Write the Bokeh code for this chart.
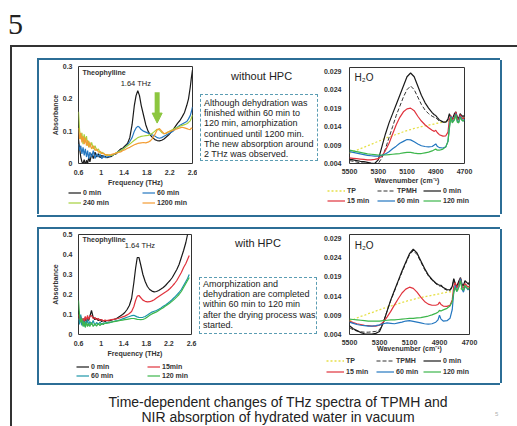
from bokeh.plotting import figure
from bokeh.models import (Div, Spacer, Legend, LegendItem, Label, Arrow, NormalHead,
                          Range1d, FixedTicker, NumeralTickFormatter)
from bokeh.layouts import column, row
from bokeh.embed import file_html
from bokeh.resources import INLINE

# ---------------- data ----------------
thz_xticks = [0.6, 1.0, 1.4, 1.8, 2.2, 2.6]
thz1_yticks = [0, 0.1, 0.2, 0.3]
thz2_yticks = [0, 0.1, 0.2, 0.3, 0.4, 0.5]
nir_xticks = [5500, 5300, 5100, 4900, 4700]
nir_yticks = [0.004, 0.009, 0.014, 0.019, 0.024, 0.029]

freq1 = [0.60, 0.62, 0.64, 0.66, 0.68, 0.70, 0.72, 0.74, 0.76, 0.78, 0.80,
         0.83, 0.86, 0.89, 0.92, 0.95, 0.98, 1.01, 1.04, 1.07, 1.10,
         1.14, 1.18, 1.22, 1.26, 1.30, 1.34, 1.38, 1.42, 1.46, 1.50, 1.54, 1.58,
         1.61, 1.64, 1.67, 1.70,
         1.74, 1.78, 1.82, 1.86, 1.90, 1.94, 1.98, 2.02, 2.06, 2.10, 2.14, 2.18,
         2.22, 2.26, 2.30, 2.34, 2.38, 2.42, 2.46, 2.50,
         2.53, 2.56, 2.58, 2.60]

thz1_0min = [0.075, 0.045, 0.02, 0.005, 0.0, 0.012, -0.005, 0.01, 0.0, 0.02, 0.005,
             0.03, 0.015, 0.035, 0.02, 0.03, 0.018, 0.025, 0.02, 0.022, 0.018,
             0.02, 0.022, 0.028, 0.03, 0.038, 0.045, 0.048, 0.055, 0.062, 0.08, 0.12, 0.18,
             0.21, 0.225, 0.21, 0.18,
             0.15, 0.12, 0.1, 0.088, 0.08, 0.074, 0.071, 0.07, 0.072, 0.076, 0.082, 0.088,
             0.096, 0.105, 0.115, 0.125, 0.133, 0.145, 0.158, 0.18,
             0.2, 0.235, 0.265, 0.29]
thz1_60min = [0.06, 0.04, 0.055, 0.03, 0.05, 0.025, 0.045, 0.02, 0.04, 0.015, 0.035,
              0.02, 0.04, 0.015, 0.03, 0.02, 0.028, 0.015, 0.025, 0.018, 0.02,
              0.022, 0.025, 0.028, 0.032, 0.036, 0.04, 0.045, 0.05, 0.058, 0.068, 0.08, 0.1,
              0.11, 0.115, 0.112, 0.105,
              0.1, 0.097, 0.094, 0.09, 0.088, 0.085, 0.08, 0.078, 0.08, 0.084, 0.088, 0.092,
              0.096, 0.1, 0.108, 0.113, 0.118, 0.122, 0.126, 0.13,
              0.138, 0.148, 0.16, 0.175]
thz1_240min = [0.16, 0.1, 0.075, 0.095, 0.06, 0.09, 0.065, 0.085, 0.055, 0.07, 0.05,
               0.065, 0.045, 0.055, 0.04, 0.045, 0.032, 0.035, 0.03, 0.028, 0.025,
               0.027, 0.025, 0.028, 0.033, 0.036, 0.04, 0.044, 0.05, 0.055, 0.06, 0.066, 0.072,
               0.076, 0.08, 0.082, 0.084,
               0.085, 0.086, 0.087, 0.09, 0.094, 0.1, 0.106, 0.104, 0.096, 0.092, 0.094, 0.098,
               0.102, 0.106, 0.11, 0.112, 0.115, 0.118, 0.12, 0.123,
               0.127, 0.132, 0.14, 0.15]
thz1_1200min = [0.11, 0.075, 0.095, 0.065, 0.085, 0.06, 0.08, 0.055, 0.072, 0.05, 0.065,
                0.045, 0.055, 0.04, 0.045, 0.035, 0.038, 0.03, 0.032, 0.026, 0.028,
                0.025, 0.028, 0.03, 0.032, 0.034, 0.036, 0.04, 0.043, 0.047, 0.05, 0.054, 0.058,
                0.06, 0.062, 0.063, 0.064,
                0.065, 0.064, 0.066, 0.07, 0.078, 0.09, 0.104, 0.108, 0.1, 0.092, 0.094, 0.098,
                0.1, 0.103, 0.105, 0.108, 0.11, 0.112, 0.11, 0.108,
                0.106, 0.105, 0.11, 0.108]

freq2 = [0.60, 0.62, 0.64, 0.66, 0.68, 0.70, 0.72, 0.74, 0.76, 0.78, 0.80,
         0.83, 0.86, 0.89, 0.92, 0.95, 0.98, 1.01, 1.04, 1.07, 1.10,
         1.14, 1.18, 1.22, 1.26, 1.30, 1.34, 1.38, 1.42, 1.46, 1.50, 1.54, 1.58,
         1.61, 1.64, 1.67, 1.70,
         1.74, 1.78, 1.82, 1.86, 1.90, 1.94, 1.98, 2.02, 2.06, 2.10, 2.14, 2.18,
         2.22, 2.26, 2.30, 2.34, 2.38, 2.42, 2.46, 2.50,
         2.53, 2.56]

thz2_0min = [0.12, 0.06, 0.09, 0.05, 0.08, 0.06, 0.085, 0.065, 0.08, 0.07, 0.09,
             0.12, 0.085, 0.075, 0.08, 0.07, 0.075, 0.065, 0.07, 0.065, 0.07,
             0.068, 0.072, 0.075, 0.078, 0.085, 0.092, 0.1, 0.11, 0.125, 0.145, 0.18, 0.26,
             0.33, 0.385, 0.385, 0.35,
             0.3, 0.265, 0.24, 0.225, 0.217, 0.213, 0.215, 0.22, 0.227, 0.235, 0.245, 0.258,
             0.27, 0.285, 0.305, 0.325, 0.35, 0.385, 0.42, 0.46,
             0.5, 0.54]
thz2_15min = [0.1, 0.07, 0.085, 0.06, 0.08, 0.065, 0.09, 0.07, 0.095, 0.075, 0.09,
              0.095, 0.08, 0.085, 0.075, 0.08, 0.07, 0.075, 0.068, 0.072, 0.07,
              0.072, 0.074, 0.076, 0.078, 0.08, 0.084, 0.088, 0.092, 0.098, 0.105, 0.115, 0.14,
              0.17, 0.192, 0.195, 0.185,
              0.172, 0.166, 0.163, 0.164, 0.168, 0.174, 0.182, 0.19, 0.198, 0.205, 0.212, 0.22,
              0.23, 0.242, 0.255, 0.27, 0.29, 0.31, 0.335, 0.355,
              0.375, 0.395]
thz2_60min = [0.08, 0.05, 0.1, 0.045, 0.07, 0.04, 0.065, 0.05, 0.075, 0.045, 0.065,
              0.05, 0.07, 0.045, 0.06, 0.05, 0.062, 0.05, 0.058, 0.055, 0.06,
              0.058, 0.062, 0.065, 0.068, 0.07, 0.074, 0.078, 0.082, 0.086, 0.09, 0.094, 0.096,
              0.092, 0.088, 0.086, 0.085,
              0.086, 0.09, 0.097, 0.105, 0.112, 0.116, 0.12, 0.126, 0.133, 0.141, 0.148, 0.156,
              0.165, 0.175, 0.186, 0.198, 0.21, 0.225, 0.245, 0.265,
              0.28, 0.3]
thz2_120min = [0.17, 0.09, 0.06, 0.08, 0.04, 0.065, 0.035, 0.06, 0.04, 0.055, 0.04,
               0.06, 0.04, 0.055, 0.042, 0.055, 0.045, 0.055, 0.05, 0.058, 0.055,
               0.06, 0.062, 0.064, 0.066, 0.068, 0.07, 0.072, 0.074, 0.076, 0.078, 0.08, 0.08,
               0.078, 0.076, 0.075, 0.074,
               0.075, 0.08, 0.088, 0.096, 0.103, 0.108, 0.113, 0.12, 0.127, 0.134, 0.142, 0.15,
               0.158, 0.167, 0.177, 0.188, 0.2, 0.215, 0.235, 0.255,
               0.27, 0.285]

wavenumber = [5500, 5475, 5450, 5425, 5400, 5375, 5350, 5325, 5300, 5275, 5250, 5225,
              5200, 5175, 5150, 5125, 5100, 5075, 5050, 5025, 5000, 4975, 4950, 4925,
              4910, 4900, 4890, 4875, 4850, 4830,
              4815, 4805, 4795, 4785, 4770, 4760, 4750, 4740, 4730, 4720, 4710, 4700]

nir1_tp = [0.0068, 0.0072, 0.0076, 0.0080, 0.0084, 0.0088, 0.0092, 0.0096, 0.0100, 0.0104, 0.0108, 0.0112,
           0.0115, 0.0119, 0.0122, 0.0126, 0.0129, 0.0132, 0.0135, 0.0137, 0.0140, 0.0142, 0.0144, 0.0146,
           0.0147, 0.0148, 0.0149, 0.0150, 0.0152, 0.0153,
           0.0154, 0.0156, 0.0157, 0.0157, 0.0159, 0.0161, 0.0160, 0.0161, 0.0163, 0.0163, 0.0164, 0.0165]
nir1_tpmh = [0.0048, 0.0046, 0.0044, 0.0042, 0.0041, 0.0040, 0.0039, 0.0039, 0.0040, 0.0055, 0.0080, 0.0110,
             0.0140, 0.0170, 0.0195, 0.0220, 0.0240, 0.0250, 0.0240, 0.0220, 0.0200, 0.0185, 0.0175, 0.0168,
             0.0165, 0.0165, 0.0160, 0.0155, 0.0152, 0.0150,
             0.0158, 0.0172, 0.0163, 0.0158, 0.0172, 0.0178, 0.0163, 0.0160, 0.0172, 0.0168, 0.0165, 0.0168]
nir1_0min = [0.0052, 0.0050, 0.0048, 0.0046, 0.0045, 0.0043, 0.0041, 0.0040, 0.0050, 0.0085, 0.0120, 0.0150,
             0.0175, 0.0200, 0.0225, 0.0250, 0.0275, 0.0285, 0.0275, 0.0250, 0.0225, 0.0205, 0.0190, 0.0178,
             0.0172, 0.0170, 0.0165, 0.0158, 0.0153, 0.0152,
             0.0160, 0.0175, 0.0165, 0.0160, 0.0175, 0.0180, 0.0165, 0.0162, 0.0175, 0.0170, 0.0168, 0.0170]
nir1_15min = [0.0055, 0.0054, 0.0053, 0.0052, 0.0051, 0.0050, 0.0050, 0.0051, 0.0053, 0.0060, 0.0075, 0.0095,
              0.0120, 0.0145, 0.0165, 0.0180, 0.0188, 0.0190, 0.0183, 0.0168, 0.0155, 0.0145, 0.0137, 0.0130,
              0.0127, 0.0130, 0.0124, 0.0118, 0.0114, 0.0115,
              0.0125, 0.0160, 0.0170, 0.0158, 0.0165, 0.0180, 0.0160, 0.0158, 0.0172, 0.0165, 0.0160, 0.0165]
nir1_60min = [0.0072, 0.0070, 0.0068, 0.0066, 0.0064, 0.0062, 0.0061, 0.0060, 0.0060, 0.0062, 0.0066, 0.0072,
              0.0080, 0.0087, 0.0095, 0.0100, 0.0105, 0.0104, 0.0099, 0.0093, 0.0088, 0.0086, 0.0085, 0.0086,
              0.0090, 0.0093, 0.0087, 0.0083, 0.0082, 0.0085,
              0.0100, 0.0140, 0.0168, 0.0152, 0.0160, 0.0175, 0.0155, 0.0152, 0.0168, 0.0160, 0.0155, 0.0160]
nir1_120min = [0.0076, 0.0074, 0.0072, 0.0070, 0.0068, 0.0066, 0.0065, 0.0064, 0.0063, 0.0063, 0.0063, 0.0064,
               0.0065, 0.0066, 0.0067, 0.0069, 0.0070, 0.0070, 0.0068, 0.0067, 0.0067, 0.0069, 0.0071, 0.0074,
               0.0077, 0.0079, 0.0076, 0.0076, 0.0079, 0.0085,
               0.0100, 0.0135, 0.0165, 0.0150, 0.0158, 0.0172, 0.0152, 0.0150, 0.0165, 0.0158, 0.0155, 0.0158]

nir2_tp = [0.0075, 0.0079, 0.0083, 0.0087, 0.0090, 0.0094, 0.0097, 0.0101, 0.0104, 0.0108, 0.0111, 0.0114,
           0.0117, 0.0120, 0.0123, 0.0126, 0.0129, 0.0131, 0.0134, 0.0136, 0.0138, 0.0140, 0.0142, 0.0144,
           0.0145, 0.0146, 0.0147, 0.0148, 0.0150, 0.0151,
           0.0152, 0.0154, 0.0155, 0.0155, 0.0157, 0.0159, 0.0159, 0.0160, 0.0162, 0.0163, 0.0164, 0.0166]
nir2_tpmh = [0.0058, 0.0052, 0.0049, 0.0047, 0.0046, 0.0046, 0.0047, 0.0048, 0.0052, 0.0072, 0.0100, 0.0128,
             0.0153, 0.0178, 0.0202, 0.0225, 0.0247, 0.0258, 0.0248, 0.0229, 0.0209, 0.0193, 0.0181, 0.0172,
             0.0168, 0.0166, 0.0166, 0.0160, 0.0155, 0.0154,
             0.0163, 0.0183, 0.0170, 0.0163, 0.0178, 0.0186, 0.0168, 0.0166, 0.0178, 0.0174, 0.0170, 0.0173]
nir2_0min = [0.0063, 0.0055, 0.0050, 0.0045, 0.0042, 0.0041, 0.0041, 0.0043, 0.0048, 0.0070, 0.0100, 0.0130,
             0.0155, 0.0180, 0.0205, 0.0228, 0.0250, 0.0262, 0.0252, 0.0232, 0.0212, 0.0195, 0.0183, 0.0174,
             0.0170, 0.0168, 0.0168, 0.0162, 0.0157, 0.0156,
             0.0165, 0.0185, 0.0172, 0.0165, 0.0180, 0.0188, 0.0170, 0.0168, 0.0180, 0.0176, 0.0172, 0.0175]
nir2_15min = [0.0075, 0.0071, 0.0068, 0.0066, 0.0064, 0.0063, 0.0062, 0.0062, 0.0064, 0.0072, 0.0085, 0.0100,
              0.0117, 0.0133, 0.0148, 0.0158, 0.0163, 0.0160, 0.0150, 0.0137, 0.0126, 0.0119, 0.0116, 0.0116,
              0.0118, 0.0124, 0.0118, 0.0114, 0.0113, 0.0116,
              0.0130, 0.0165, 0.0175, 0.0160, 0.0172, 0.0185, 0.0165, 0.0160, 0.0172, 0.0168, 0.0163, 0.0166]
nir2_60min = [0.0072, 0.0069, 0.0066, 0.0064, 0.0063, 0.0062, 0.0062, 0.0063, 0.0065, 0.0068, 0.0070, 0.0069,
              0.0068, 0.0070, 0.0072, 0.0075, 0.0076, 0.0074, 0.0072, 0.0070, 0.0068, 0.0067, 0.0068, 0.0072,
              0.0078, 0.0090, 0.0080, 0.0075, 0.0076, 0.0082,
              0.0105, 0.0150, 0.0168, 0.0152, 0.0165, 0.0185, 0.0158, 0.0150, 0.0165, 0.0162, 0.0156, 0.0160]
nir2_120min = [0.0080, 0.0079, 0.0078, 0.0077, 0.0076, 0.0075, 0.0075, 0.0075, 0.0075, 0.0076, 0.0077, 0.0078,
               0.0078, 0.0079, 0.0080, 0.0081, 0.0082, 0.0082, 0.0083, 0.0084, 0.0086, 0.0088, 0.0091, 0.0095,
               0.0098, 0.0103, 0.0101, 0.0104, 0.0108, 0.0114,
               0.0125, 0.0150, 0.0162, 0.0152, 0.0165, 0.0180, 0.0158, 0.0155, 0.0168, 0.0163, 0.0158, 0.0162]

# ---------------- styling helpers ----------------
FONT = "Liberation Sans"
TXT = "#222222"
SMALL = "#333333"
FRAME_BLUE = "#2c6e96"
S_BLACK = dict(line_color="#1a1a1a", line_width=1.2)
S_RED = dict(line_color="#e0323c", line_width=1.2)
S_BLUE = dict(line_color="#2477c0", line_width=1.2)
S_TEAL = dict(line_color="#1c95a8", line_width=1.2)
S_GREEN = dict(line_color="#3cb64b", line_width=1.2)
S_YGREEN = dict(line_color="#a6d13c", line_width=1.2)
S_ORANGE = dict(line_color="#f39c32", line_width=1.2)
S_TP = dict(line_color="#e6e04a", line_width=1.3, line_dash="2 2")
S_TPMH = dict(line_color="#333333", line_width=1.0, line_dash="4 2")


def make_fig(frame_w, frame_h, left, right, top, bottom, xr, yr):
    p = figure(frame_width=frame_w, frame_height=frame_h,
               min_border_left=left, min_border_right=right,
               min_border_top=top, min_border_bottom=bottom,
               x_range=xr, y_range=yr, output_backend="svg",
               toolbar_location=None, tools="", margin=0)
    p.grid.visible = False
    p.outline_line_color = "#333333"
    p.outline_line_width = 1
    p.border_fill_color = "white"
    for ax in (p.xaxis, p.yaxis):
        ax.major_tick_line_color = None
        ax.minor_tick_line_color = None
        ax.major_tick_out = 0
        ax.major_tick_in = 0
        ax.axis_line_color = None
        ax.major_label_text_font = FONT
        ax.major_label_text_font_size = "7px"
        ax.major_label_text_font_style = "bold"
        ax.major_label_text_color = SMALL
        ax.axis_label_text_font = FONT
        ax.axis_label_text_font_size = "7px"
        ax.axis_label_text_font_style = "bold"
        ax.axis_label_text_color = SMALL
    return p


def legend_strip(total_w, height, starts, columns, glyph_w, spacing):
    """Row of small legend-only figures; each column is its own Legend at top_left.
    The legend glyphs come from the same series, drawn outside the strip's visible range."""
    children = [Spacer(width=starts[0], height=height)]
    for i, entries in enumerate(columns):
        end = starts[i + 1] if i + 1 < len(starts) else total_w
        lf = figure(width=end - starts[i], height=height, min_border=0, margin=0,
                    x_range=Range1d(-20000, -19999), y_range=Range1d(-20000, -19999),
                    x_axis_location=None, y_axis_location=None,
                    output_backend="svg", toolbar_location=None, tools="")
        lf.grid.visible = False
        lf.outline_line_color = None
        items = [LegendItem(label=lab, renderers=[lf.line(xs, ys, **sty)])
                 for lab, sty, xs, ys in entries]
        lf.add_layout(Legend(items=items, location="top_left", orientation="vertical",
                             background_fill_alpha=0, border_line_color=None,
                             label_text_font=FONT, label_text_font_size="7px",
                             label_text_font_style="bold",
                             label_text_color=SMALL, label_standoff=2,
                             glyph_width=glyph_w, glyph_height=9, label_height=9,
                             spacing=spacing, padding=0, margin=0), "center")
        children.append(lf)
    return row(children)


def thz_fig(frame_w, frame_h, top, bottom, yticks, ymax, right):
    p = make_fig(frame_w, frame_h, 39, right, top, bottom,
                 Range1d(0.6, 2.6), Range1d(0, ymax))
    p.xaxis.ticker = FixedTicker(ticks=thz_xticks)
    p.yaxis.ticker = FixedTicker(ticks=yticks)
    p.xaxis.formatter = NumeralTickFormatter(format="0.[0]")
    p.yaxis.formatter = NumeralTickFormatter(format="0.[0]")
    p.xaxis.axis_label = "Frequency (THz)"
    p.yaxis.axis_label = "Absorbance"
    p.xaxis.major_label_standoff = 6
    p.xaxis.axis_label_standoff = 1
    p.yaxis.major_label_standoff = 6
    p.yaxis.axis_label_standoff = 1
    return p


def nir_fig(frame_w, frame_h, top, bottom, right, label_standoff):
    p = make_fig(frame_w, frame_h, 27, right, top, bottom,
                 Range1d(5500, 4700), Range1d(0.004, 0.030))
    p.xaxis.ticker = FixedTicker(ticks=nir_xticks)
    p.yaxis.ticker = FixedTicker(ticks=nir_yticks)
    p.yaxis.formatter = NumeralTickFormatter(format="0.000")
    p.xaxis.axis_label = "Wavenumber (cm\u207b\u00b9)"
    p.xaxis.major_label_standoff = 5
    p.xaxis.axis_label_standoff = label_standoff
    p.yaxis.major_label_standoff = 8
    return p


def solid(w, h, color):
    return Div(width=w, height=h, margin=0, styles={"background-color": color})


def boxed(content, w, h, t, color):
    return column(solid(w + 2 * t, t, color),
                  row(solid(t, h, color), content, solid(t, h, color)),
                  solid(w + 2 * t, t, color))


def text_div(text, w, h, size="11px"):
    return Div(text=text, width=w, height=h, margin=0,
               styles={"font-family": FONT, "font-size": size, "line-height": f"{h}px",
                       "color": TXT, "white-space": "nowrap"})


def note_box(lines, w, h, pad_top):
    html = ("<div style=\"box-sizing:border-box;width:%dpx;height:%dpx;border:1px dashed #5b9db3;"
            "padding:%dpx 2px 0 3px;font-family:'Liberation Sans';font-size:9px;line-height:10.2px;"
            "color:#222;white-space:nowrap;\">%s</div>" % (w, h, pad_top, "<br>".join(lines)))
    return Div(text=html, width=w, height=h, margin=0)


# ---------------- panel 1 : without HPC ----------------
thz1 = thz_fig(114, 97, 6, 25, thz1_yticks, 0.3, 5)
thz1.line(freq1, thz1_0min, **S_BLACK)
thz1.line(freq1, thz1_60min, **S_BLUE)
thz1.line(freq1, thz1_240min, **S_YGREEN)
thz1.line(freq1, thz1_1200min, **S_ORANGE)
thz1.add_layout(Label(x=0.67, y=0.292, text="Theophylline", text_font=FONT,
                      text_font_size="7px", text_font_style="bold", text_color=SMALL,
                      text_baseline="top"))
thz1.add_layout(Label(x=1.34, y=0.262, text="1.64 THz", text_font=FONT,
                      text_font_size="7.5px", text_color=TXT, text_baseline="top"))
thz1.add_layout(Arrow(end=NormalHead(size=10, fill_color="#8cc63f", line_color="#8cc63f", line_width=1),
                      x_start=1.98, y_start=0.22, x_end=1.98, y_end=0.125,
                      line_color="#8cc63f", line_width=5))
leg_thz1 = legend_strip(158, 19, [29, 103],
                        [[("0 min", S_BLACK, freq1, thz1_0min), ("240 min", S_YGREEN, freq1, thz1_240min)],
                         [("60 min", S_BLUE, freq1, thz1_60min), ("1200 min", S_ORANGE, freq1, thz1_1200min)]],
                        13, 1)
col_thz1 = column(thz1, leg_thz1, Spacer(width=158, height=7))

nir1 = nir_fig(115, 96, 7, 22, 36, 0)
nir1.line(wavenumber, nir1_tp, **S_TP)
nir1.line(wavenumber, nir1_tpmh, **S_TPMH)
nir1.line(wavenumber, nir1_0min, **S_BLACK)
nir1.line(wavenumber, nir1_15min, **S_RED)
nir1.line(wavenumber, nir1_60min, **S_BLUE)
nir1.line(wavenumber, nir1_120min, **S_GREEN)
nir1.add_layout(Label(x=5465, y=0.0289, text="H\u2082O", text_font=FONT,
                      text_font_size="10px", text_color=TXT, text_baseline="top"))
leg_nir1 = legend_strip(178, 19, [7, 57, 103],
                        [[("TP", S_TP, wavenumber, nir1_tp), ("15 min", S_RED, wavenumber, nir1_15min)],
                         [("TPMH", S_TPMH, wavenumber, nir1_tpmh), ("60 min", S_BLUE, wavenumber, nir1_60min)],
                         [("0 min", S_BLACK, wavenumber, nir1_0min), ("120 min", S_GREEN, wavenumber, nir1_120min)]],
                        18, 1)
col_nir1 = column(nir1, leg_nir1, Spacer(width=178, height=10))

box1_lines = ["Although dehydration was", "finished within 60 min to",
              "120 min, amorphization", "continued until 1200 min.",
              "The new absorption around", "2 THz was observed."]
mid1 = column(
    Spacer(width=123, height=9),
    row(Spacer(width=34, height=14), text_div("without HPC", 89, 14)),
    Spacer(width=123, height=11),
    row(Spacer(width=3, height=67), note_box(box1_lines, 118, 67, 3), Spacer(width=2, height=67)),
    Spacer(width=123, height=53),
)
panel1 = boxed(row(col_thz1, mid1, col_nir1), 459, 154, 2, FRAME_BLUE)

# ---------------- panel 2 : with HPC ----------------
thz2 = thz_fig(113, 100, 5, 28, thz2_yticks, 0.5, 6)
thz2.line(freq2, thz2_0min, **S_BLACK)
thz2.line(freq2, thz2_15min, **S_RED)
thz2.line(freq2, thz2_60min, **S_TEAL)
thz2.line(freq2, thz2_120min, **S_GREEN)
thz2.add_layout(Label(x=0.67, y=0.492, text="Theophylline", text_font=FONT,
                      text_font_size="7px", text_font_style="bold", text_color=SMALL,
                      text_baseline="top"))
thz2.add_layout(Label(x=1.42, y=0.47, text="1.64 THz", text_font=FONT,
                      text_font_size="7.5px", text_color=TXT, text_baseline="top"))
leg_thz2 = legend_strip(158, 18, [37, 108],
                        [[("0 min", S_BLACK, freq2, thz2_0min), ("60 min", S_TEAL, freq2, thz2_60min)],
                         [("15min", S_RED, freq2, thz2_15min), ("120 min", S_GREEN, freq2, thz2_120min)]],
                        13, 0)
col_thz2 = column(thz2, leg_thz2, Spacer(width=158, height=3))

nir2 = nir_fig(120, 100, 5, 22, 31, -3)
nir2.line(wavenumber, nir2_tp, **S_TP)
nir2.line(wavenumber, nir2_tpmh, **S_TPMH)
nir2.line(wavenumber, nir2_0min, **S_BLACK)
nir2.line(wavenumber, nir2_15min, **S_RED)
nir2.line(wavenumber, nir2_60min, **S_BLUE)
nir2.line(wavenumber, nir2_120min, **S_GREEN)
nir2.add_layout(Label(x=5465, y=0.0287, text="H\u2082O", text_font=FONT,
                      text_font_size="10px", text_color=TXT, text_baseline="top"))
leg_nir2 = legend_strip(178, 20, [6, 56, 103],
                        [[("TP", S_TP, wavenumber, nir2_tp), ("15 min", S_RED, wavenumber, nir2_15min)],
                         [("TPMH", S_TPMH, wavenumber, nir2_tpmh), ("60 min", S_BLUE, wavenumber, nir2_60min)],
                         [("0 min", S_BLACK, wavenumber, nir2_0min), ("120 min", S_GREEN, wavenumber, nir2_120min)]],
                        18, 2)
col_nir2 = column(nir2, leg_nir2, Spacer(width=178, height=7))

box2_lines = ["Amorphization and", "dehydration are completed",
              "within 60 min to 120 min", "after the drying process was", "started."]
mid2 = column(
    Spacer(width=123, height=7),
    row(Spacer(width=38, height=14), text_div("with HPC", 85, 14)),
    Spacer(width=123, height=27),
    row(Spacer(width=2, height=57), note_box(box2_lines, 118, 57, 1), Spacer(width=3, height=57)),
    Spacer(width=123, height=49),
)
panel2 = boxed(row(col_thz2, mid2, col_nir2), 459, 154, 2, FRAME_BLUE)

# ---------------- slide furniture ----------------
caption_html = ("<div style=\"position:relative;width:444px;height:42px;\">"
                "<div style=\"padding-top:10px;text-align:center;font-family:'Liberation Sans';"
                "font-size:14px;line-height:15px;color:#222;white-space:nowrap;\">"
                "Time-dependent changes of THz spectra of TPMH and<br>"
                "NIR absorption of hydrated water in vacuum</div>"
                "<span style=\"position:absolute;left:439px;top:25px;font-family:'Liberation Sans';"
                "font-size:6px;color:#b0b0b0;\">5</span></div>")
caption = row(Spacer(width=19, height=42), Div(text=caption_html, width=444, height=42, margin=0))

header = column(Spacer(width=517, height=9),
                row(Spacer(width=8, height=36),
                    Div(text="5", width=40, height=36, margin=0,
                        styles={"font-family": "Liberation Serif", "font-size": "30px",
                                "line-height": "30px", "color": "#222"})))

inner = column(Spacer(width=463, height=11), panel1, Spacer(width=463, height=10), panel2, caption)
outer = column(solid(507, 2, "#333333"),
               row(solid(2, 379, "#333333"), Spacer(width=25, height=379), inner,
                   Spacer(width=17, height=379)))

root = column(header, row(Spacer(width=10, height=381), outer))

open("out.html", "w").write(file_html(root, INLINE))
